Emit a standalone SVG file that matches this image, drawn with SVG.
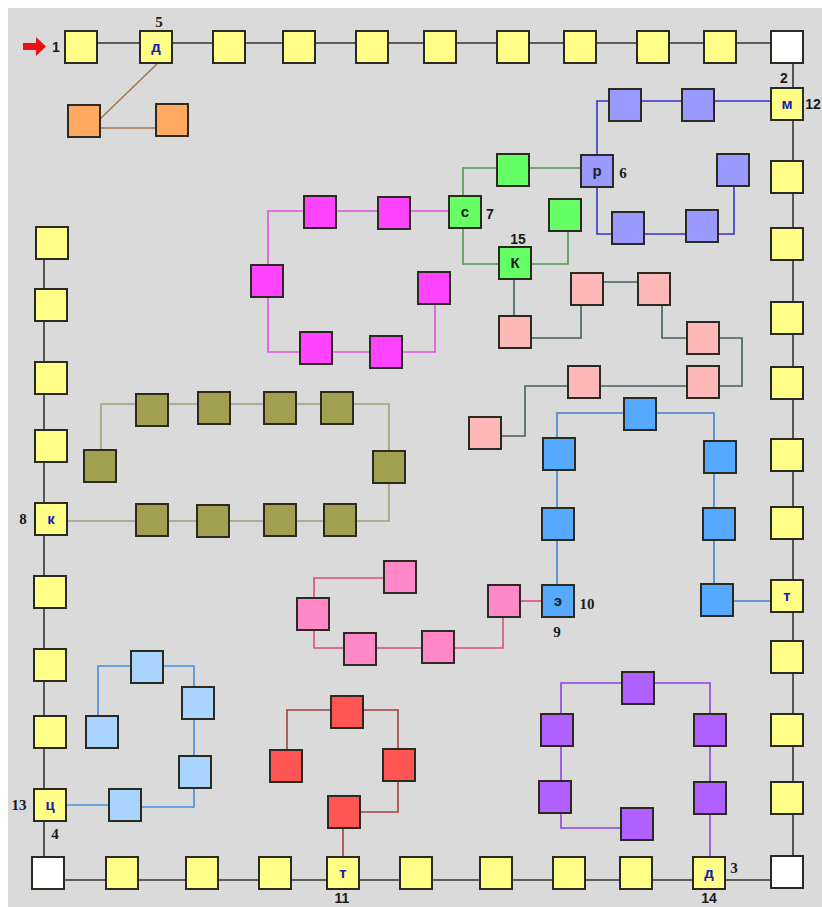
<svg xmlns="http://www.w3.org/2000/svg" width="822" height="907" viewBox="0 0 822 907">
<style>
.n{stroke:#2a2a20;stroke-width:2}
.y{fill:#ffff88}.w{fill:#ffffff}.or{fill:#ffaa60}.pw{fill:#9999ff}.gr{fill:#66ff66}
.mg{fill:#ff44ff}.sa{fill:#ffb8b8}.ol{fill:#a0a050}.bl{fill:#55aaff}.pk{fill:#ff88c8}
.rd{fill:#ff5555}.lb{fill:#a8d4ff}.pu{fill:#b060ff}
.c{fill:none;stroke-width:1.6}
.k{stroke:#333333}.cor{stroke:#a07850}.cpw{stroke:#3333cc}.cgr{stroke:#4a9a4a}.cmg{stroke:#e050e0}
.csa{stroke:#406060}.col{stroke:#a0a078}.cbl{stroke:#4080d0}.cpk{stroke:#e04888}.crd{stroke:#a04040}
.clb{stroke:#4090e0}.cpu{stroke:#9040e0}
.lt{font-family:"Liberation Sans",Arial,sans-serif;font-weight:bold;font-size:15px;text-anchor:middle}
.ly{fill:#1a1ab0}.ld{fill:#202020}
.num{font-family:"Liberation Sans",Arial,sans-serif;font-weight:bold;font-size:14px;fill:#1a1a1a;text-anchor:middle}
.nums{font-family:"Liberation Serif","Times New Roman",serif;font-weight:bold;font-size:15px;fill:#1a1a1a;text-anchor:middle}
</style>
<defs>
<rect id="sq" x="-16" y="-16" width="32" height="32"/>
</defs>
<rect x="8" y="8" width="814" height="899" fill="#dadada"/>
<polygon points="23,43 36,43 36,37 46,46.5 36,56 36,50 23,50" fill="#ee1111"/>

<g id="connectors">
<polyline class="c k" points="81,43 793,43 793,880 44,880 44,243"/>
<polyline class="c cor" points="158,63 100,119"/>
<polyline class="c cor" points="100,128 157,128"/>
<polyline class="c cpw" points="772,101 597,101 597,155"/>
<polyline class="c cpw" points="597,188 597,234 734,234 734,187"/>
<polyline class="c cgr" points="581,168 463,168 463,264 499,264"/>
<polyline class="c cgr" points="532,264 568,264 568,231"/>
<polyline class="c cmg" points="449,211 268,211 268,352 435,352 435,304"/>
<polyline class="c csa" points="514,279 514,316"/>
<polyline class="c csa" points="531,338 581,338 581,306"/>
<polyline class="c csa" points="603,282 638,282"/>
<polyline class="c csa" points="662,306 662,338 687,338"/>
<polyline class="c csa" points="719,338 742,338 742,386 719,386"/>
<polyline class="c csa" points="687,386 600,386"/>
<polyline class="c csa" points="568,386 525,386 525,436 501,436"/>
<polyline class="c col" points="101,449 101,404 389,404 389,521 68,521"/>
<polyline class="c cbl" points="557,585 557,413 714,413 714,584"/>
<polyline class="c cbl" points="733,601 771,601"/>
<polyline class="c cpk" points="384,578 314,578 314,648 503,648 503,618"/>
<polyline class="c cpk" points="520,601 542,601"/>
<polyline class="c crd" points="287,749 287,710 398,710 398,812 361,812"/>
<polyline class="c crd" points="343,829 343,857"/>
<polyline class="c clb" points="98,715 98,666 194,666 194,807 141,807"/>
<polyline class="c clb" points="109,805 66,805"/>
<polyline class="c cpu" points="621,828 561,828 561,683 710,683 710,857"/>
</g>

<g id="t1"><use href="#sq" x="81" y="47" class="n y"/></g>
<g id="t2"><use href="#sq" x="156" y="47" class="n y"/><text x="156" y="52" class="lt ly">д</text></g>
<g id="t3"><use href="#sq" x="229" y="47" class="n y"/></g>
<g id="t4"><use href="#sq" x="299" y="47" class="n y"/></g>
<g id="t5"><use href="#sq" x="372" y="47" class="n y"/></g>
<g id="t6"><use href="#sq" x="440" y="47" class="n y"/></g>
<g id="t7"><use href="#sq" x="513" y="47" class="n y"/></g>
<g id="t8"><use href="#sq" x="580" y="47" class="n y"/></g>
<g id="t9"><use href="#sq" x="653" y="47" class="n y"/></g>
<g id="t10"><use href="#sq" x="720" y="47" class="n y"/></g>
<g id="c-tr"><use href="#sq" x="787" y="47" class="n w"/></g>
<g id="r1"><use href="#sq" x="787" y="104" class="n y"/><text x="787" y="109" class="lt ly">м</text></g>
<g id="r2"><use href="#sq" x="787" y="177" class="n y"/></g>
<g id="r3"><use href="#sq" x="787" y="244" class="n y"/></g>
<g id="r4"><use href="#sq" x="787" y="318" class="n y"/></g>
<g id="r5"><use href="#sq" x="787" y="383" class="n y"/></g>
<g id="r6"><use href="#sq" x="787" y="455" class="n y"/></g>
<g id="r7"><use href="#sq" x="787" y="523" class="n y"/></g>
<g id="r8"><use href="#sq" x="787" y="596" class="n y"/><text x="787" y="601" class="lt ly">т</text></g>
<g id="r9"><use href="#sq" x="787" y="657" class="n y"/></g>
<g id="r10"><use href="#sq" x="787" y="730" class="n y"/></g>
<g id="r11"><use href="#sq" x="787" y="798" class="n y"/></g>
<g id="c-br"><use href="#sq" x="787" y="872" class="n w"/></g>
<g id="b1"><use href="#sq" x="709" y="873" class="n y"/><text x="709" y="878" class="lt ly">д</text></g>
<g id="b2"><use href="#sq" x="636" y="873" class="n y"/></g>
<g id="b3"><use href="#sq" x="569" y="873" class="n y"/></g>
<g id="b4"><use href="#sq" x="496" y="873" class="n y"/></g>
<g id="b5"><use href="#sq" x="416" y="873" class="n y"/></g>
<g id="b6"><use href="#sq" x="343" y="873" class="n y"/><text x="343" y="878" class="lt ly">т</text></g>
<g id="b7"><use href="#sq" x="275" y="873" class="n y"/></g>
<g id="b8"><use href="#sq" x="202" y="873" class="n y"/></g>
<g id="b9"><use href="#sq" x="122" y="873" class="n y"/></g>
<g id="c-bl"><use href="#sq" x="48" y="873" class="n w"/></g>
<g id="l1"><use href="#sq" x="50" y="805" class="n y"/><text x="50" y="810" class="lt ly">ц</text></g>
<g id="l2"><use href="#sq" x="50" y="732" class="n y"/></g>
<g id="l3"><use href="#sq" x="50" y="665" class="n y"/></g>
<g id="l4"><use href="#sq" x="50" y="592" class="n y"/></g>
<g id="l5"><use href="#sq" x="51" y="519" class="n y"/><text x="51" y="524" class="lt ly">к</text></g>
<g id="l6"><use href="#sq" x="51" y="446" class="n y"/></g>
<g id="l7"><use href="#sq" x="51" y="378" class="n y"/></g>
<g id="l8"><use href="#sq" x="51" y="305" class="n y"/></g>
<g id="l9"><use href="#sq" x="52" y="243" class="n y"/></g>

<g id="or1"><use href="#sq" x="84" y="121" class="n or"/></g>
<g id="or2"><use href="#sq" x="172" y="120" class="n or"/></g>
<g id="pw1"><use href="#sq" x="625" y="105" class="n pw"/></g>
<g id="pw2"><use href="#sq" x="698" y="105" class="n pw"/></g>
<g id="pw3"><use href="#sq" x="597" y="171" class="n pw"/><text x="597" y="176" class="lt ld">р</text></g>
<g id="pw4"><use href="#sq" x="628" y="228" class="n pw"/></g>
<g id="pw5"><use href="#sq" x="702" y="226" class="n pw"/></g>
<g id="pw6"><use href="#sq" x="733" y="170" class="n pw"/></g>
<g id="gr1"><use href="#sq" x="513" y="170" class="n gr"/></g>
<g id="gr2"><use href="#sq" x="465" y="212" class="n gr"/><text x="465" y="217" class="lt ld">с</text></g>
<g id="gr3"><use href="#sq" x="565" y="215" class="n gr"/></g>
<g id="gr4"><use href="#sq" x="515" y="263" class="n gr"/><text x="515" y="268" class="lt ld">К</text></g>
<g id="mg1"><use href="#sq" x="320" y="212" class="n mg"/></g>
<g id="mg2"><use href="#sq" x="394" y="213" class="n mg"/></g>
<g id="mg3"><use href="#sq" x="267" y="281" class="n mg"/></g>
<g id="mg4"><use href="#sq" x="316" y="348" class="n mg"/></g>
<g id="mg5"><use href="#sq" x="386" y="352" class="n mg"/></g>
<g id="mg6"><use href="#sq" x="434" y="288" class="n mg"/></g>
<g id="sa1"><use href="#sq" x="515" y="332" class="n sa"/></g>
<g id="sa2"><use href="#sq" x="587" y="289" class="n sa"/></g>
<g id="sa3"><use href="#sq" x="654" y="289" class="n sa"/></g>
<g id="sa4"><use href="#sq" x="703" y="338" class="n sa"/></g>
<g id="sa5"><use href="#sq" x="703" y="382" class="n sa"/></g>
<g id="sa6"><use href="#sq" x="584" y="382" class="n sa"/></g>
<g id="sa7"><use href="#sq" x="485" y="433" class="n sa"/></g>
<g id="ol1"><use href="#sq" x="152" y="410" class="n ol"/></g>
<g id="ol2"><use href="#sq" x="214" y="408" class="n ol"/></g>
<g id="ol3"><use href="#sq" x="280" y="408" class="n ol"/></g>
<g id="ol4"><use href="#sq" x="337" y="408" class="n ol"/></g>
<g id="ol5"><use href="#sq" x="100" y="466" class="n ol"/></g>
<g id="ol6"><use href="#sq" x="389" y="467" class="n ol"/></g>
<g id="ol7"><use href="#sq" x="152" y="520" class="n ol"/></g>
<g id="ol8"><use href="#sq" x="213" y="521" class="n ol"/></g>
<g id="ol9"><use href="#sq" x="280" y="520" class="n ol"/></g>
<g id="ol10"><use href="#sq" x="340" y="520" class="n ol"/></g>
<g id="bl1"><use href="#sq" x="640" y="414" class="n bl"/></g>
<g id="bl2"><use href="#sq" x="559" y="454" class="n bl"/></g>
<g id="bl3"><use href="#sq" x="558" y="524" class="n bl"/></g>
<g id="bl4"><use href="#sq" x="558" y="601" class="n bl"/><text x="558" y="606" class="lt ld">э</text></g>
<g id="bl5"><use href="#sq" x="720" y="457" class="n bl"/></g>
<g id="bl6"><use href="#sq" x="719" y="524" class="n bl"/></g>
<g id="bl7"><use href="#sq" x="717" y="600" class="n bl"/></g>
<g id="pk1"><use href="#sq" x="400" y="577" class="n pk"/></g>
<g id="pk2"><use href="#sq" x="313" y="614" class="n pk"/></g>
<g id="pk3"><use href="#sq" x="360" y="649" class="n pk"/></g>
<g id="pk4"><use href="#sq" x="438" y="647" class="n pk"/></g>
<g id="pk5"><use href="#sq" x="504" y="601" class="n pk"/></g>
<g id="rd1"><use href="#sq" x="347" y="712" class="n rd"/></g>
<g id="rd2"><use href="#sq" x="286" y="766" class="n rd"/></g>
<g id="rd3"><use href="#sq" x="399" y="765" class="n rd"/></g>
<g id="rd4"><use href="#sq" x="344" y="812" class="n rd"/></g>
<g id="lb1"><use href="#sq" x="147" y="667" class="n lb"/></g>
<g id="lb2"><use href="#sq" x="102" y="732" class="n lb"/></g>
<g id="lb3"><use href="#sq" x="198" y="703" class="n lb"/></g>
<g id="lb4"><use href="#sq" x="195" y="772" class="n lb"/></g>
<g id="lb5"><use href="#sq" x="125" y="805" class="n lb"/></g>
<g id="pu1"><use href="#sq" x="638" y="688" class="n pu"/></g>
<g id="pu2"><use href="#sq" x="557" y="730" class="n pu"/></g>
<g id="pu3"><use href="#sq" x="555" y="797" class="n pu"/></g>
<g id="pu4"><use href="#sq" x="637" y="824" class="n pu"/></g>
<g id="pu5"><use href="#sq" x="710" y="730" class="n pu"/></g>
<g id="pu6"><use href="#sq" x="710" y="798" class="n pu"/></g>

<g id="labels">
<text x="56" y="52" class="num">1</text>
<text x="159" y="27" class="nums">5</text>
<text x="784" y="83" class="num">2</text>
<text x="813" y="109" class="num">12</text>
<text x="623" y="178" class="nums">6</text>
<text x="490" y="219" class="num">7</text>
<text x="518" y="244" class="num">15</text>
<text x="23" y="524" class="nums">8</text>
<text x="19" y="810" class="nums">13</text>
<text x="55" y="839" class="nums">4</text>
<text x="587" y="609" class="nums">10</text>
<text x="557" y="637" class="nums">9</text>
<text x="342" y="903" class="num">11</text>
<text x="709" y="903" class="num">14</text>
<text x="734" y="873" class="nums">3</text>
</g>
</svg>
